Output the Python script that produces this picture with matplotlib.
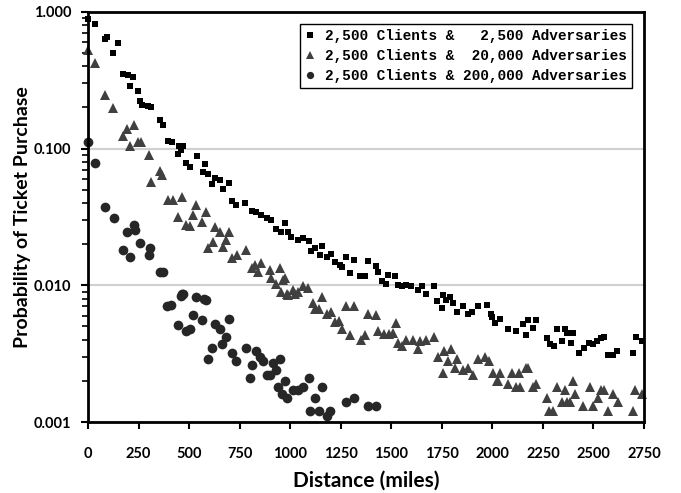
import matplotlib
matplotlib.use("Agg")
import matplotlib.pyplot as plt
from matplotlib.ticker import LogLocator, FixedLocator, NullFormatter

# 2,500 clients & 2,500 adversaries (squares)
sq_x = [0, 35, 83, 94, 150, 126, 173, 198, 225, 210, 249, 257, 267, 297, 312, 355, 371,
        396, 414, 450, 470, 462, 444, 538, 483, 503, 581, 569, 594, 611, 627, 652, 668,
        698, 714, 734, 779, 809, 833, 858, 883, 907, 932, 973, 957, 990, 1006, 1039, 1064,
        1093, 1105, 1122, 1155, 1146, 1180, 1201, 1221, 1245, 1254, 1275, 1298, 1316, 1344,
        1369, 1385, 1424, 1435, 1452, 1473, 1484, 1518, 1534, 1551, 1575, 1600, 1633, 1650,
        1671, 1711, 1724, 1754, 1749, 1773, 1790, 1806, 1826, 1856, 1880, 1897, 1930, 1971,
        1991, 1996, 2012, 2037, 2078, 2116, 2149, 2164, 2177, 2199, 2215, 2268, 2285, 2304,
        2318, 2342, 2359, 2370, 2387, 2400, 2429, 2453, 2479, 2499, 2516, 2535, 2552, 2573,
        2595, 2617, 2697, 2710, 2738]
sq_y = [0.88, 0.81, 0.63, 0.66, 0.59, 0.50, 0.353, 0.345, 0.334, 0.288, 0.265, 0.221, 0.208,
        0.206, 0.202, 0.163, 0.149, 0.114, 0.112, 0.104, 0.105, 0.097, 0.091, 0.0875, 0.078,
        0.073, 0.077, 0.067, 0.065, 0.055, 0.061, 0.059, 0.0505, 0.056, 0.041, 0.0387, 0.0403,
        0.035, 0.0346, 0.0327, 0.031, 0.030, 0.0257, 0.0285, 0.0247, 0.0247, 0.0227, 0.0215,
        0.0221, 0.0212, 0.0179, 0.0187, 0.0194, 0.0167, 0.016, 0.017, 0.0149, 0.0141, 0.0137,
        0.016, 0.0122, 0.0153, 0.0116, 0.0117, 0.0151, 0.0138, 0.0126, 0.0108, 0.0103, 0.0119,
        0.0117, 0.0101, 0.0098, 0.0101, 0.0099, 0.0092, 0.0098, 0.0086, 0.0098, 0.0077, 0.0085,
        0.0068, 0.0078, 0.0082, 0.0074, 0.0064, 0.0070, 0.0062, 0.0064, 0.0070, 0.0072, 0.0062,
        0.0059, 0.0053, 0.0057, 0.0048, 0.0046, 0.0052, 0.0043, 0.0056, 0.0049, 0.0056, 0.0041,
        0.0037, 0.0036, 0.0048, 0.0039, 0.0048, 0.0045, 0.0038, 0.0045, 0.0032, 0.0035, 0.0038,
        0.0037, 0.0039, 0.0041, 0.0042, 0.0031, 0.0031, 0.0033, 0.0032, 0.0042, 0.0039]

# 2,500 clients & 20,000 adversaries (triangles)
tri_x = [0, 35, 84, 126, 173, 193, 226, 210, 247, 264, 300, 355, 368, 314, 396, 421, 467,
         445, 483, 503, 520, 536, 566, 582, 627, 652, 698, 594, 616, 668, 681, 714, 737, 780,
         809, 825, 858, 841, 899, 907, 949, 932, 965, 957, 990, 1023, 973, 1014, 1039, 1064,
         1089, 1155, 982, 1113, 1122, 1143, 1180, 1204, 1221, 1242, 1254, 1275, 1315, 1298,
         1348, 1369, 1385, 1424, 1435, 1463, 1489, 1509, 1523, 1534, 1551, 1575, 1605, 1633,
         1641, 1674, 1712, 1732, 1754, 1760, 1793, 1781, 1814, 1826, 1856, 1880, 1902, 1930,
         1963, 1984, 2004, 2021, 2029, 2040, 2078, 2095, 2116, 2139, 2133, 2166, 2177, 2199,
         2215, 2268, 2281, 2301, 2318, 2342, 2359, 2370, 2383, 2400, 2408, 2449, 2482, 2499,
         2523, 2535, 2552, 2573, 2598, 2622, 2697, 2705, 2738]
tri_y = [0.53, 0.42, 0.248, 0.198, 0.123, 0.139, 0.149, 0.104, 0.111, 0.111, 0.0896, 0.068,
         0.064, 0.0574, 0.042, 0.042, 0.0446, 0.0318, 0.0277, 0.0272, 0.0327, 0.0387, 0.0288,
         0.0346, 0.0266, 0.0247, 0.0247, 0.0187, 0.0209, 0.0192, 0.0215, 0.0158, 0.0167, 0.0182,
         0.0133, 0.0141, 0.0145, 0.0126, 0.0129, 0.0113, 0.0133, 0.0103, 0.0109, 0.0090, 0.0085,
         0.0087, 0.0113, 0.0092, 0.0090, 0.0098, 0.0096, 0.0082, 0.0087, 0.0074, 0.0067, 0.0067,
         0.0062, 0.0064, 0.0054, 0.0055, 0.0048, 0.0070, 0.0070, 0.0043, 0.0040, 0.0043, 0.0062,
         0.0061, 0.0046, 0.0044, 0.0044, 0.0045, 0.0053, 0.0038, 0.0036, 0.0040, 0.0040, 0.0034,
         0.0039, 0.0040, 0.0042, 0.0030, 0.0023, 0.0033, 0.0034, 0.0028, 0.0025, 0.0029, 0.0024,
         0.0025, 0.0022, 0.0029, 0.0030, 0.0028, 0.0023, 0.0020, 0.0020, 0.0023, 0.0019, 0.0023,
         0.0018, 0.0018, 0.0023, 0.0025, 0.0025, 0.0018, 0.0019, 0.0015, 0.0012, 0.0012, 0.0018,
         0.0014, 0.0017, 0.0014, 0.0014, 0.0020, 0.0016, 0.0013, 0.0018, 0.0013, 0.0015, 0.0017,
         0.0017, 0.0012, 0.0016, 0.0014, 0.0012, 0.0017, 0.0016]

# 2,500 clients & 200,000 adversaries (circles)
cir_x = [0, 33, 83, 127, 193, 226, 231, 173, 210, 256, 309, 302, 358, 371, 467, 536, 572,
         391, 413, 462, 470, 582, 445, 483, 503, 520, 566, 627, 652, 698, 681, 665, 612, 594,
         714, 734, 780, 813, 803, 830, 850, 866, 883, 902, 915, 932, 949, 940, 973, 962, 985,
         1014, 1039, 1064, 1094, 1155, 1122, 1100, 1143, 1180, 1199, 1275, 1315, 1385, 1424]
cir_y = [0.111, 0.078, 0.0373, 0.031, 0.0247, 0.0277, 0.0254, 0.0181, 0.016, 0.0205, 0.0187,
         0.0167, 0.0126, 0.0126, 0.0086, 0.0082, 0.0080, 0.0070, 0.0072, 0.0083, 0.0087, 0.0078,
         0.0051, 0.0046, 0.0048, 0.0061, 0.0056, 0.0052, 0.0048, 0.0057, 0.0042, 0.0037, 0.0035,
         0.0029, 0.0032, 0.0028, 0.0035, 0.0026, 0.0021, 0.0033, 0.0030, 0.0028, 0.0022, 0.0022,
         0.0027, 0.0024, 0.0029, 0.0018, 0.0020, 0.0016, 0.0015, 0.0017, 0.0017, 0.0018, 0.0021,
         0.0018, 0.0015, 0.0012, 0.0012, 0.0011, 0.0012, 0.0014, 0.0015, 0.0013, 0.0013]

labels = ["2,500 Clients &   2,500 Adversaries",
          "2,500 Clients &  20,000 Adversaries",
          "2,500 Clients & 200,000 Adversaries"]
x_ticks = list(range(0, 2751, 250))
y_ticks = [0.001, 0.01, 0.1, 1.0]
y_tick_labels = ["0.001", "0.010", "0.100", "1.000"]

plt.rcParams["font.family"] = ["Lato", "DejaVu Sans"]

fig = plt.figure(figsize=(6.81, 4.93), dpi=100)
ax = fig.add_axes([0.1292, 0.144, 0.8165, 0.832])

ax.plot(sq_x, sq_y, "s", color="black", ms=5, mew=0, label=labels[0], clip_on=False, zorder=5)
ax.plot(tri_x, tri_y, "^", color="#404040", ms=7, mew=0, label=labels[1], clip_on=False, zorder=4)
ax.plot(cir_x, cir_y, "o", color="#262626", ms=7, mew=0, label=labels[2], clip_on=False, zorder=3)

ax.set_yscale("log")
ax.set_xlim(0, 2750)
ax.set_ylim(0.001, 1.0)

ax.xaxis.set_major_locator(FixedLocator(x_ticks))
ax.set_xticklabels([str(t) for t in x_ticks], fontweight="bold", fontsize=10.5)
ax.yaxis.set_major_locator(FixedLocator(y_ticks))
ax.set_yticklabels(y_tick_labels, fontweight="bold", fontsize=10.5)
ax.yaxis.set_minor_locator(LogLocator(base=10, subs=range(2, 10)))
ax.yaxis.set_minor_formatter(NullFormatter())

ax.tick_params(axis="both", which="major", direction="out", length=5, width=1.5)
ax.tick_params(axis="x", which="major", pad=13)
ax.tick_params(axis="y", which="major", pad=7)
ax.tick_params(axis="y", which="minor", direction="out", length=4, width=1.2)

ax.grid(True, axis="y", which="major", color="#d0d0d0", linewidth=1.5)
ax.set_axisbelow(True)
for sp in ax.spines.values():
    sp.set_linewidth(2)
    sp.set_color("black")
    sp.set_zorder(6)

ax.set_xlabel("Distance (miles)", fontsize=15, fontweight="bold", labelpad=7)
ax.set_ylabel("Probability of Ticket Purchase", fontsize=14, fontweight="bold", labelpad=2)

leg = ax.legend(loc="upper right", bbox_to_anchor=(0.9785, 0.97), borderaxespad=0,
                fancybox=False, framealpha=1, edgecolor="black", handlelength=0.7,
                handletextpad=0.7, borderpad=0.35, labelspacing=0.42, markerscale=0.75,
                prop={"family": "Liberation Mono", "weight": "bold", "size": 10.4})
leg.get_frame().set_linewidth(1.0)

fig.savefig("out.png", dpi=100)
